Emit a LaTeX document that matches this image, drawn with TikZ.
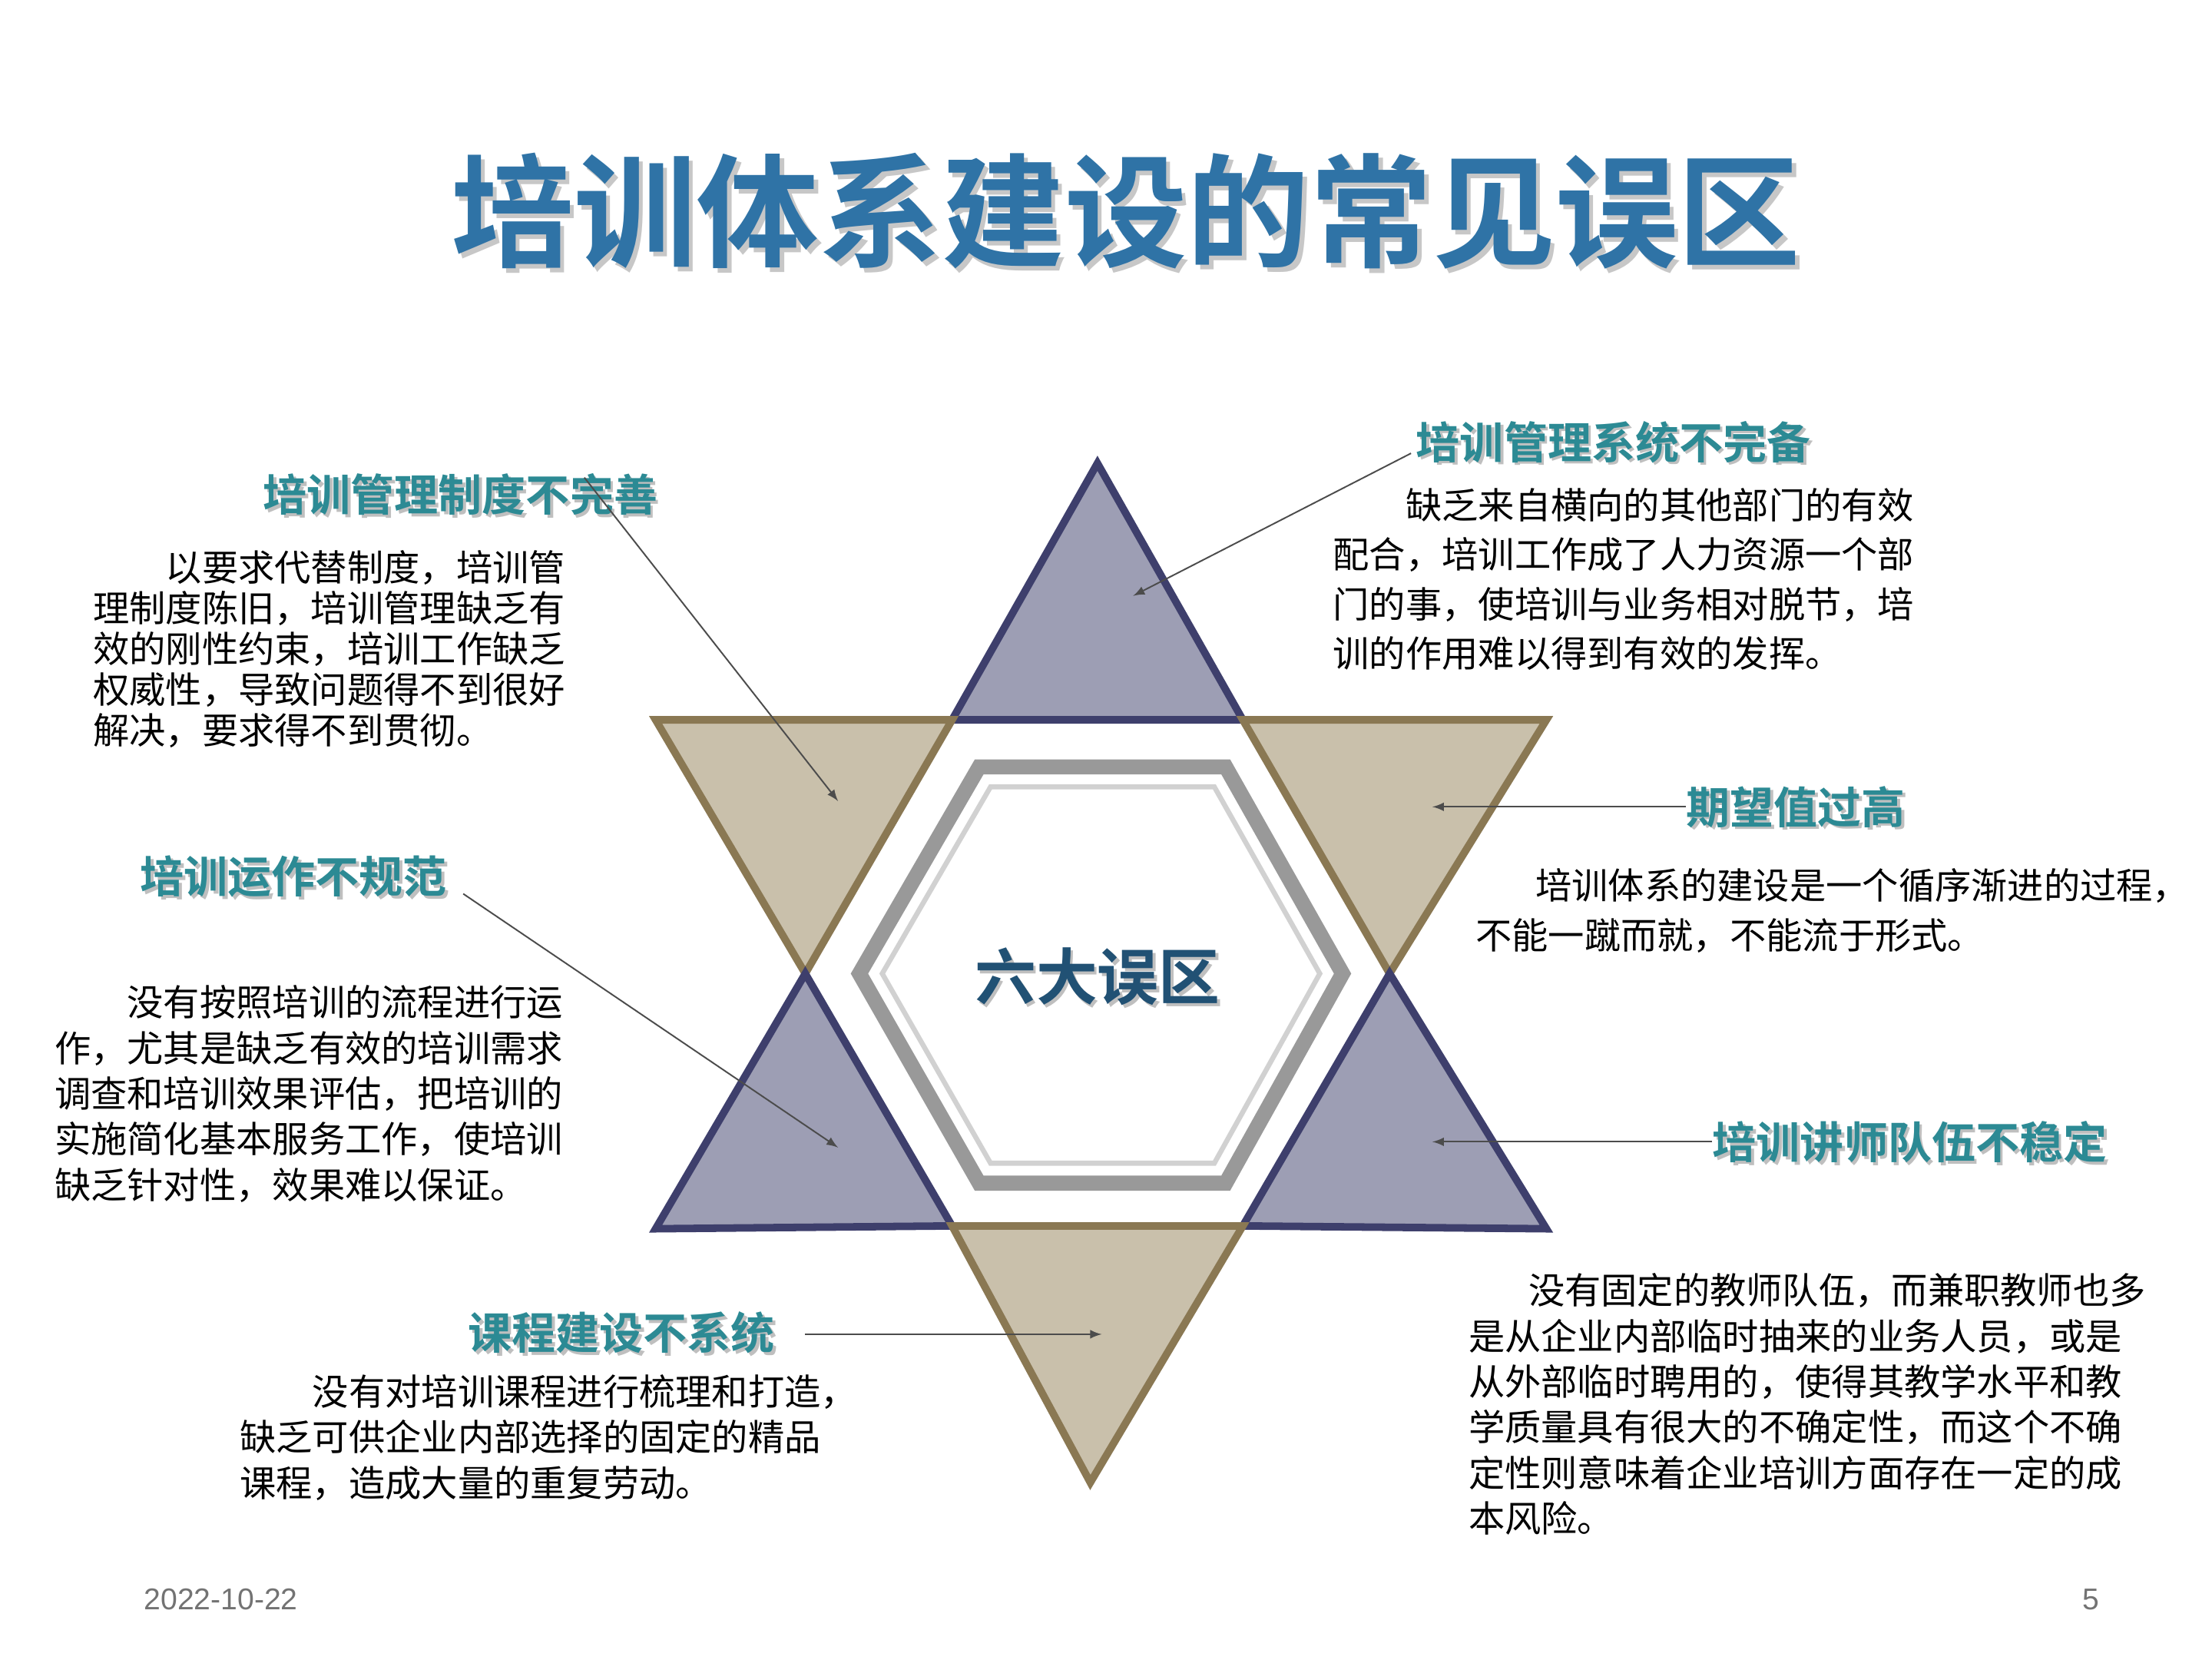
\documentclass[tikz,border=0pt]{standalone}
\usepackage{fontspec}
\usetikzlibrary{calc}
\setmainfont{Liberation Sans}
\newfontfamily\cjk{Noto Sans CJK SC}
\newfontfamily\cjkb{Noto Sans CJK SC Bold}
\definecolor{titleblue}{HTML}{2F73A6}
\definecolor{headteal}{HTML}{2C8A94}
\definecolor{triblue}{HTML}{9D9EB4}
\definecolor{triblueE}{HTML}{3E3F6C}
\definecolor{tritan}{HTML}{C9C0AB}
\definecolor{tritanE}{HTML}{8A7853}
\begin{document}
\begin{tikzpicture}[x=0.02cm,y=-0.02cm,
  head/.style={font=\cjkb\fontsize{17.5}{20}\selectfont,text=headteal,inner sep=0},
  headsh/.style={font=\cjkb\fontsize{17.5}{20}\selectfont,text=black!25,inner sep=0},
  body/.style={font=\cjk\fontsize{14.5}{#1}\selectfont,anchor=north west,align=left,inner sep=0},
  bluetri/.style={fill=triblue,draw=triblueE,line width=3pt,line join=miter},
  tantri/.style={fill=tritan,draw=tritanE,line width=3pt,line join=miter},
  arr/.style={draw=black!70,line width=0.6pt,-latex}]
\useasboundingbox (0,0) rectangle (1552,1164);
% title
\node[font=\cjkb\fontsize{49}{55}\selectfont,text=black!22] at (793,151) {培训体系建设的常见误区};
\node[font=\cjkb\fontsize{49}{55}\selectfont,text=titleblue] (title) at (790,148) {培训体系建设的常见误区};
% triangles
\draw[bluetri] (770,325) -- (872,505) -- (668,505) -- cycle;
\draw[tantri] (460,505) -- (668,505) -- (565,683) -- cycle;
\draw[tantri] (872,505) -- (1085,505) -- (975,683) -- cycle;
\draw[bluetri] (565,683) -- (668,860) -- (460,862) -- cycle;
\draw[bluetri] (975,683) -- (1085,862) -- (872,860) -- cycle;
\draw[tantri] (668,860) -- (872,860) -- (765,1040) -- cycle;
% hexagon ring
\draw[draw=black!40,line width=6pt,line join=miter] (687,538) -- (860,538) -- (942,683) -- (860,830) -- (687,830) -- (603,683) -- cycle;
\draw[draw=black!18,line width=2pt,line join=miter] (695,552) -- (852,552) -- (926,683) -- (852,816) -- (695,816) -- (619,683) -- cycle;
\node[font=\cjkb\fontsize{24.5}{28}\selectfont,text=black!25] at (772,687) {六大误区};
\node[font=\cjkb\fontsize{24.5}{28}\selectfont,text=titleblue!70!black] (center) at (770,685) {六大误区};
% headings
\node[headsh] at (325,349) {培训管理制度不完善};
\node[head] (h1) at (323,347) {培训管理制度不完善};
\node[headsh] at (1134,312) {培训管理系统不完备};
\node[head] (h2) at (1132,310) {培训管理系统不完备};
\node[headsh] at (1262,568) {期望值过高};
\node[head] (h3) at (1260,566) {期望值过高};
\node[headsh] at (208,617) {培训运作不规范};
\node[head] (h4) at (206,615) {培训运作不规范};
\node[headsh] at (1342,803) {培训讲师队伍不稳定};
\node[head] (h5) at (1340,801) {培训讲师队伍不稳定};
\node[headsh] at (438,937) {课程建设不系统};
\node[head] (h6) at (436,935) {课程建设不系统};
% arrow targets
\coordinate (t1) at (588,562);
\coordinate (t2) at (795,418);
\coordinate (t3) at (1005,566);
\coordinate (t4) at (588,805);
\coordinate (t5) at (1005,801);
\coordinate (t6) at (773,936);
\coordinate (s1) at (410,335);
\coordinate (s2) at (990,318);
\coordinate (s4) at (325,627);
\coordinate (s6) at (565,936);
\draw[arr] (s1) -- (t1);
\draw[arr] (s2) -- (t2);
\draw[arr] (h3.west) -- (t3);
\draw[arr] (s4) -- (t4);
\draw[arr] (h5.west) -- (t5);
\draw[arr] (s6) -- (t6);
% bodies
\node[body=16.2] (b1) at (65,386) {\hspace*{2em}以要求代替制度，培训管\\理制度陈旧，培训管理缺乏有\\效的刚性约束，培训工作缺乏\\权威性，导致问题得不到很好\\解决，要求得不到贯彻。};
\node[body=19.8] (b2) at (935,342) {\hspace*{2em}缺乏来自横向的其他部门的有效\\配合，培训工作成了人力资源一个部\\门的事，使培训与业务相对脱节，培\\训的作用难以得到有效的发挥。};
\node[body=19.8] (b3) at (1035,609) {\hspace*{1.65em}培训体系的建设是一个循序渐进的过程，\\不能一蹴而就，不能流于形式。};
\node[body=18.2] (b4) at (38,691) {\hspace*{2em}没有按照培训的流程进行运\\作，尤其是缺乏有效的培训需求\\调查和培训效果评估，把培训的\\实施简化基本服务工作，使培训\\缺乏针对性，效果难以保证。};
\node[body=18.2] (b5) at (1030,893) {\hspace*{1.65em}没有固定的教师队伍，而兼职教师也多\\是从企业内部临时抽来的业务人员，或是\\从外部临时聘用的，使得其教学水平和教\\学质量具有很大的不确定性，而这个不确\\定性则意味着企业培训方面存在一定的成\\本风险。};
\node[body=18.2] (b6) at (168,964) {\hspace*{2em}没有对培训课程进行梳理和打造，\\缺乏可供企业内部选择的固定的精品\\课程，造成大量的重复劳动。};
% footer
\node[font=\fontsize{12}{14}\selectfont,text=black!55] (date) at (155,1122) {2022-10-22};
\node[font=\fontsize{12}{14}\selectfont,text=black!55] (pg) at (1467,1122) {5};
\end{tikzpicture}
\end{document}
